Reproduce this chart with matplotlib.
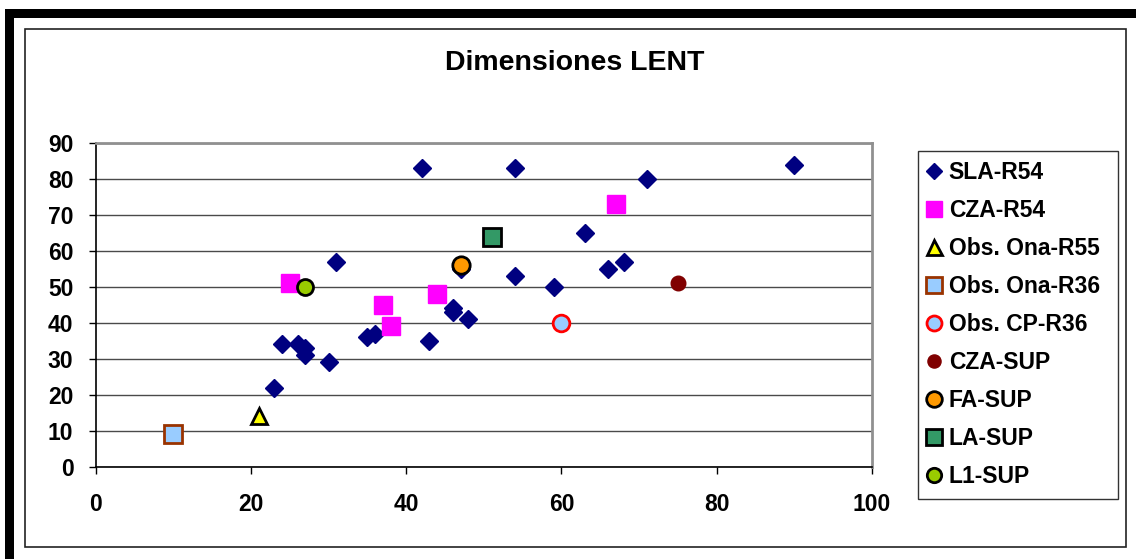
import matplotlib
matplotlib.use("Agg")
import matplotlib.pyplot as plt
from matplotlib.patches import Rectangle

plt.rcParams['font.family'] = ['Liberation Sans', 'DejaVu Sans']
plt.rcParams['font.weight'] = 'bold'

# series data (x, y)
sla_x = [42, 54, 90, 71, 63, 31, 54, 59, 66, 68, 47, 46, 46, 48, 43, 35, 36, 24, 26, 27, 27, 30, 23]
sla_y = [83, 83, 84, 80, 65, 57, 53, 50, 55, 57, 55, 44, 43, 41, 35, 36, 37, 34, 34, 33, 31, 29, 22]
cza_x = [25, 37, 38, 44, 67]
cza_y = [51, 45, 39, 48, 73]
ona55_x, ona55_y = [21], [14]
ona36_x, ona36_y = [10], [9]
cp36_x, cp36_y = [60], [40]
czasup_x, czasup_y = [75], [51]
fasup_x, fasup_y = [47], [56]
lasup_x, lasup_y = [51], [64]
l1sup_x, l1sup_y = [27], [50]

xticks = [0, 20, 40, 60, 80, 100]
yticks = [0, 10, 20, 30, 40, 50, 60, 70, 80, 90]

W, H = 1136, 559
fig = plt.figure(figsize=(W / 100, H / 100), dpi=100)

# outer frame: thick bars on top/left, thin inner border
fig.add_artist(Rectangle((5 / W, 1 - 18 / H), 1 - 5 / W, 9 / H, transform=fig.transFigure,
                         facecolor='black', edgecolor='none'))
fig.add_artist(Rectangle((5 / W, 0), 9 / W, 1 - 9 / H, transform=fig.transFigure,
                         facecolor='black', edgecolor='none'))
fig.add_artist(Rectangle((24.5 / W, 12 / H), (1126 - 24.5) / W, (547 - 28.7) / H,
                         transform=fig.transFigure, facecolor='none',
                         edgecolor='#222222', linewidth=1.2))

ax = fig.add_axes([0.0842, 0.1651, 0.7676 - 0.0842, 0.7442 - 0.1651])
ax.set_xlim(0, 100)
ax.set_ylim(0, 90)
ax.set_xticks(xticks)
ax.set_yticks(yticks)
ax.tick_params(labelsize=16.5, length=5, width=1, direction='out', color='black')
ax.tick_params(axis='y', pad=11)
ax.tick_params(axis='x', pad=14)
ax.yaxis.grid(True, color='#4a4a4a', linewidth=1)
ax.set_axisbelow(True)
for s in ['left', 'bottom']:
    ax.spines[s].set_color('black')
    ax.spines[s].set_linewidth(1.2)
for s in ['top', 'right']:
    ax.spines[s].set_color('#909090')
    ax.spines[s].set_linewidth(2)

ax.plot(sla_x, sla_y, 'D', ms=9.5, color='#000080', mec='#000080', label='SLA-R54', clip_on=False)
ax.plot(cza_x, cza_y, 's', ms=13, color='#FF00FF', mec='#FF00FF', label='CZA-R54', clip_on=False)
ax.plot(ona55_x, ona55_y, '^', ms=12, color='#FFFF00', mec='black', mew=2, label='Obs. Ona-R55', clip_on=False)
ax.plot(ona36_x, ona36_y, 's', ms=12.5, color='#99CCFF', mec='#993300', mew=2, label='Obs. Ona-R36', clip_on=False)
ax.plot(cp36_x, cp36_y, 'o', ms=12, color='#99CCFF', mec='#FF0000', mew=2, label='Obs. CP-R36', clip_on=False)
ax.plot(czasup_x, czasup_y, 'o', ms=10.5, color='#800000', mec='#800000', label='CZA-SUP', clip_on=False)
ax.plot(fasup_x, fasup_y, 'o', ms=12.5, color='#FF9900', mec='black', mew=2, label='FA-SUP', clip_on=False)
ax.plot(lasup_x, lasup_y, 's', ms=12.5, color='#339966', mec='black', mew=2, label='LA-SUP', clip_on=False)
ax.plot(l1sup_x, l1sup_y, 'o', ms=11.5, color='#99CC00', mec='black', mew=2, label='L1-SUP', clip_on=False)

fig.text(0.506, 0.888, 'Dimensiones LENT', ha='center', va='center', fontsize=20.5, fontweight='bold')

handles, labels = ax.get_legend_handles_labels()
leg = fig.legend(handles, labels, loc='upper left', bbox_to_anchor=(0.808, 0.1127, 0.176, 0.617),
                 mode='expand', fontsize=16.5, frameon=True, fancybox=False, edgecolor='#333333',
                 framealpha=1, handlelength=0.5, handletextpad=0.4, labelspacing=0.655,
                 borderpad=0.45, borderaxespad=0, markerscale=0.9)
leg.get_frame().set_linewidth(1)

fig.savefig('out.png', dpi=100)
